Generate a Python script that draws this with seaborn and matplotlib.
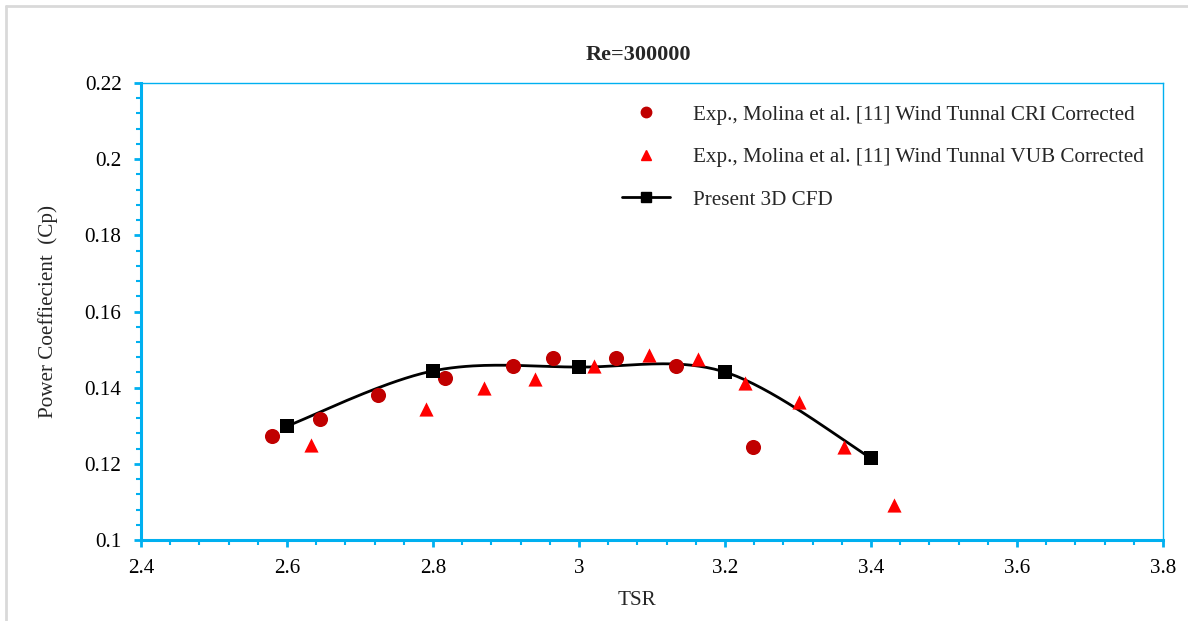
import numpy as np
import pandas as pd
import matplotlib
matplotlib.use("Agg")
import matplotlib.pyplot as plt
from matplotlib.lines import Line2D
import seaborn as sns

# Experimental data: CRI wind tunnel (corrected)
cri_tsr = [2.580, 2.645, 2.725, 2.816, 2.910, 2.964, 3.051, 3.133, 3.238]
cri_cp = [0.1273, 0.1318, 0.1381, 0.1425, 0.1457, 0.1478, 0.1478, 0.1457, 0.1244]

# Experimental data: VUB wind tunnel (corrected)
vub_tsr = [2.633, 2.790, 2.870, 2.940, 3.021, 3.096, 3.163, 3.228, 3.301, 3.363, 3.432]
vub_cp = [0.1250, 0.1344, 0.1400, 0.1423, 0.1457, 0.1486, 0.1475, 0.1413, 0.1363, 0.1245, 0.1092]

# Present 3D CFD results
cfd_tsr = [2.6, 2.8, 3.0, 3.2, 3.4]
cfd_cp = [0.1299, 0.1444, 0.1454, 0.1441, 0.1215]

x_ticks = [2.4, 2.6, 2.8, 3.0, 3.2, 3.4, 3.6, 3.8]
x_tick_labels = ["2.4", "2.6", "2.8", "3", "3.2", "3.4", "3.6", "3.8"]
y_ticks = [0.10, 0.12, 0.14, 0.16, 0.18, 0.20, 0.22]
y_tick_labels = ["0.1", "0.12", "0.14", "0.16", "0.18", "0.2", "0.22"]

lbl_cri = "Exp., Molina et al. [11] Wind Tunnal CRI Corrected"
lbl_vub = "Exp., Molina et al. [11] Wind Tunnal VUB Corrected"
lbl_cfd = "Present 3D CFD"


def smooth_curve(xs, ys, n=40):
    """Bezier smoothing through the points (spreadsheet-style smoothed line)."""
    p = np.column_stack([xs, ys]).astype(float)
    m = len(p)
    out = []
    for i in range(m - 1):
        p0 = p[i - 1] if i > 0 else p[i]
        p1 = p[i]
        p2 = p[i + 1]
        p3 = p[i + 2] if i + 2 < m else p[i + 1]
        c1 = p1 + (p2 - p0) / 6.0
        c2 = p2 - (p3 - p1) / 6.0
        t = np.linspace(0, 1, n, endpoint=(i == m - 2))[:, None]
        seg = ((1 - t) ** 3) * p1 + 3 * ((1 - t) ** 2) * t * c1 + 3 * (1 - t) * t ** 2 * c2 + t ** 3 * p2
        out.append(seg)
    out = np.vstack(out)
    return out[:, 0], out[:, 1]


sns.set_theme(style="white")
plt.rcParams["font.family"] = ["Liberation Serif", "DejaVu Serif"]

blue = "#00B0F0"
dark_red = "#C00000"
red = "#FF0000"
fs = 15.2

fig = plt.figure(figsize=(11.88, 6.21), dpi=100)
ax = fig.add_axes([141 / 1188, 1 - 540 / 621, (1163 - 141) / 1188, (540 - 83) / 621])

# Light grey frame along the top and left edges of the figure
frame_kw = dict(transform=fig.transFigure, color="#D9D9D9", linewidth=2)
fig.add_artist(Line2D([6 / 1188, 1.0], [1 - 6 / 621, 1 - 6 / 621], **frame_kw))
fig.add_artist(Line2D([6 / 1188, 6 / 1188], [0.0, 1 - 6 / 621], **frame_kw))

sx, sy = smooth_curve(cfd_tsr, cfd_cp)
curve = pd.DataFrame({"TSR": sx, "Cp": sy})
sns.lineplot(data=curve, x="TSR", y="Cp", ax=ax, color="black", linewidth=2.0,
             sort=False, estimator=None, zorder=2)

cfd = pd.DataFrame({"TSR": cfd_tsr, "Cp": cfd_cp})
sns.scatterplot(data=cfd, x="TSR", y="Cp", ax=ax, marker="s", s=110, color="black",
                edgecolor="black", linewidth=0, zorder=4)

cri = pd.DataFrame({"TSR": cri_tsr, "Cp": cri_cp})
sns.scatterplot(data=cri, x="TSR", y="Cp", ax=ax, marker="o", s=118, color=dark_red,
                edgecolor=dark_red, linewidth=0, zorder=3)

vub = pd.DataFrame({"TSR": vub_tsr, "Cp": vub_cp})
sns.scatterplot(data=vub, x="TSR", y="Cp", ax=ax, marker="^", s=104, color=red,
                edgecolor=red, linewidth=0, zorder=3)

ax.set_xlim(2.4, 3.8)
ax.set_ylim(0.1, 0.22)
ax.set_xticks(x_ticks)
ax.set_xticklabels(x_tick_labels)
ax.set_yticks(y_ticks)
ax.set_yticklabels(y_tick_labels)
ax.set_xticks(np.arange(2.4, 3.8001, 0.04), minor=True)
ax.set_yticks(np.arange(0.1, 0.22001, 0.004), minor=True)
ax.tick_params(axis="both", which="major", direction="out", length=5, width=2,
               color=blue, labelsize=fs, labelcolor="black", pad=9)
ax.tick_params(axis="both", which="minor", direction="out", length=3.5, width=1.5, color=blue)
ax.tick_params(axis="x", which="both", bottom=True)
ax.tick_params(axis="y", which="both", left=True)

for side in ["left", "bottom"]:
    ax.spines[side].set_color(blue)
    ax.spines[side].set_linewidth(2.2)
for side in ["top", "right"]:
    ax.spines[side].set_color(blue)
    ax.spines[side].set_linewidth(1.0)

ax.set_xlabel("TSR", fontsize=fs)
ax.xaxis.set_label_coords(0.485, -0.112)
ax.set_ylabel("Power Coeffiecient  (Cp)", fontsize=fs)
ax.yaxis.set_label_coords(-0.081, 0.5)
ax.text(0.487, 1.062, "Re=300000", transform=ax.transAxes, fontsize=16,
        fontweight="bold", ha="center", va="center")

handles = [
    Line2D([], [], linestyle="none", marker="o", markersize=7.5, color=dark_red),
    Line2D([], [], linestyle="none", marker="^", markersize=7.5, color=red),
    Line2D([], [], linestyle="-", linewidth=2, marker="s", markersize=7.5, color="black"),
]
ax.legend(handles, [lbl_cri, lbl_vub, lbl_cfd], loc="upper left",
          bbox_to_anchor=(0.4705, 0.952), frameon=False, fontsize=fs,
          borderpad=0, borderaxespad=0,
          handlelength=2.3, handletextpad=1.05, labelspacing=1.08)

fig.savefig("out.png", dpi=100)
